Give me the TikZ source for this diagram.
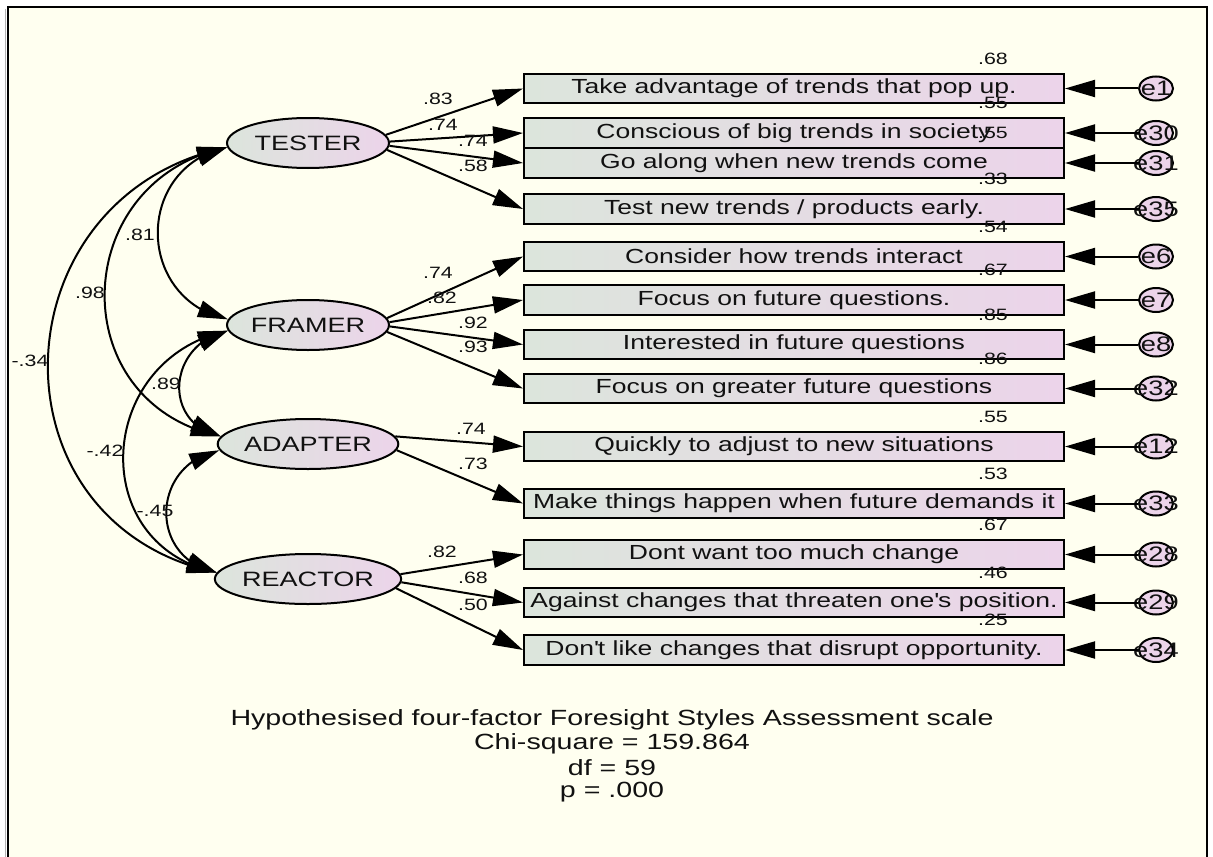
\documentclass[tikz,border=0pt]{standalone}
\usepackage{fontspec}
\setmainfont{Liberation Sans}[FakeStretch=1.3]
\usetikzlibrary{arrows.meta,bending,shapes.geometric}
\definecolor{bgc}{HTML}{FFFFF0}
\definecolor{lgreen}{HTML}{DCE5DC}
\definecolor{lpink}{HTML}{ECD4EA}
\definecolor{txt}{HTML}{111111}
\begin{document}
\begin{tikzpicture}[x=0.5pt,y=-0.5pt,
  obs/.style={draw, line width=1pt, minimum width=270pt, minimum height=14.75pt, inner sep=0pt,
    left color=lgreen, right color=lpink, text=txt, font=\fontsize{10.2}{12}\selectfont},
  lat/.style={ellipse, draw, line width=1pt, minimum width=81pt, minimum height=25pt, inner sep=0pt,
    left color=lgreen, right color=lpink, text=txt, font=\fontsize{10.4}{12}\selectfont},
  err/.style={ellipse, draw, line width=1pt, minimum width=17pt, minimum height=12pt, inner sep=0pt,
    fill=lpink, text=txt, font=\fontsize{10.5}{12}\selectfont},
  num/.style={inner sep=0pt, text=txt, font=\fontsize{8.2}{9}\selectfont},
  captext/.style={inner sep=0pt, text=txt, font=\fontsize{11}{13}\selectfont},
  ld/.style={-{Triangle[length=15pt,width=8.5pt]}, line width=1pt},
  cov/.style={{Triangle[length=15pt,width=8.5pt,flex]}-{Triangle[length=15pt,width=8.5pt,flex]}, line width=1pt}]
\useasboundingbox (0,0) rectangle (1213,856);
\fill[white] (0,0) rectangle (1213,856);
\begin{scope}
\clip (0,0) rectangle (1213,856);
\draw[line width=1.4pt, fill=bgc] (8,7) rectangle (1207,880);
\draw[gray!60, line width=0.8pt] (5.5,9) -- (5.5,860);
\end{scope}

% latent variables
\node[lat] (T) at (308,143) {TESTER};
\node[lat] (F) at (308,325) {FRAMER};
\node[lat] (A) at (308,444) {ADAPTER};
\node[lat] (R) at (308,579) {REACTOR};

% observed variables
\node[obs] (b1) at (794,88.5) {Take advantage of trends that pop up.};
\node[obs] (b2) at (794,133) {Conscious of big trends in society};
\node[obs] (b3) at (794,163) {Go along when new trends come};
\node[obs] (b4) at (794,209) {Test new trends / products early.};
\node[obs] (b5) at (794,256.5) {Consider how trends interact};
\node[obs] (b6) at (794,300) {Focus on future questions.};
\node[obs] (b7) at (794,344.5) {Interested in future questions};
\node[obs] (b8) at (794,388.5) {Focus on greater future questions};
\node[obs] (b9) at (794,446.5) {Quickly to adjust to new situations};
\node[obs] (b10) at (794,503.5) {Make things happen when future demands it};
\node[obs] (b11) at (794,554.5) {Dont want too much change};
\node[obs] (b12) at (794,602.5) {Against changes that threaten one\textquotesingle s position.};
\node[obs] (b13) at (794,650) {Don\textquotesingle t like changes that disrupt opportunity.};

% error terms
\foreach \b/\e in {b1/1,b2/30,b3/31,b4/35,b5/6,b6/7,b7/8,b8/32,b9/12,b10/33,b11/28,b12/29,b13/34}{
  \node[err] (e\e) at (1156,0 |- \b) {\makebox[0pt]{e\e}};
  \draw[ld] (e\e) -- (\b.east);
}

% loadings
\foreach \a/\b in {6/b1,1/b2,-2/b3,-5/b4}{\draw[ld] (T.\a) -- (\b.west);}
\foreach \a/\b in {5/b5,2/b6,-1.5/b7,-5/b8}{\draw[ld] (F.\a) -- (\b.west);}
\foreach \a/\b in {5/b9,-4.5/b10}{\draw[ld] (A.\a) -- (\b.west);}
\foreach \a/\b in {3/b11,-2/b12,-6/b13}{\draw[ld] (R.\a) -- (\b.west);}

% loading labels
\node[num] (l1) at (438,99) {.83};
\node[num] (l2) at (443,125) {.74};
\node[num] (l3) at (473,141) {.74};
\node[num] (l4) at (473,166) {.58};
\node[num] (l5) at (438,273) {.74};
\node[num] (l6) at (442,298) {.82};
\node[num] (l7) at (473,323) {.92};
\node[num] (l8) at (473,347) {.93};
\node[num] (l9) at (471,429) {.74};
\node[num] (l10) at (473,464) {.73};
\node[num] (l11) at (442,552) {.82};
\node[num] (l12) at (473,578) {.68};
\node[num] (l13) at (473,605) {.50};

% squared multiple correlations
\foreach \b/\v in {b1/.68,b2/.55,b3/.55,b4/.33,b5/.54,b6/.67,b7/.85,b8/.86,b9/.55,b10/.53,b11/.67,b12/.46,b13/.25}{
  \node[num, anchor=center] at ([yshift=7pt]993,0 |- \b.north) {\v};
}

% covariances
\draw[cov] (T.183) .. controls +(-93,20) and +(-93,-20) .. (F.176);
\draw[cov] (T.183) .. controls +(-159,33) and +(-159,-33) .. (A.175);
\draw[cov] (T.183) .. controls +(-232,49) and +(-232,-49) .. (R.176);
\draw[cov] (F.184) .. controls +(-60,13) and +(-60,-13) .. (A.175);
\draw[cov] (F.184) .. controls +(-132,28) and +(-132,-28) .. (R.176);
\draw[cov] (A.184) .. controls +(-69,14) and +(-69,-14) .. (R.176);

\node[num] (c1) at (140,235) {.81};
\node[num] (c2) at (90,293) {.98};
\node[num] (c3) at (30,361) {-.34};
\node[num] (c4) at (166,384) {.89};
\node[num] (c5) at (105,451) {-.42};
\node[num] (c6) at (155,511) {-.45};

% caption
\node[captext] (t1) at (612,720) {Hypothesised four-factor Foresight Styles Assessment scale};
\node[captext] (t2) at (612,744) {Chi-square = 159.864};
\node[captext] (t3) at (612,768) {df = 59};
\node[captext] (t4) at (612,792) {p = .000};
\end{tikzpicture}
\end{document}
